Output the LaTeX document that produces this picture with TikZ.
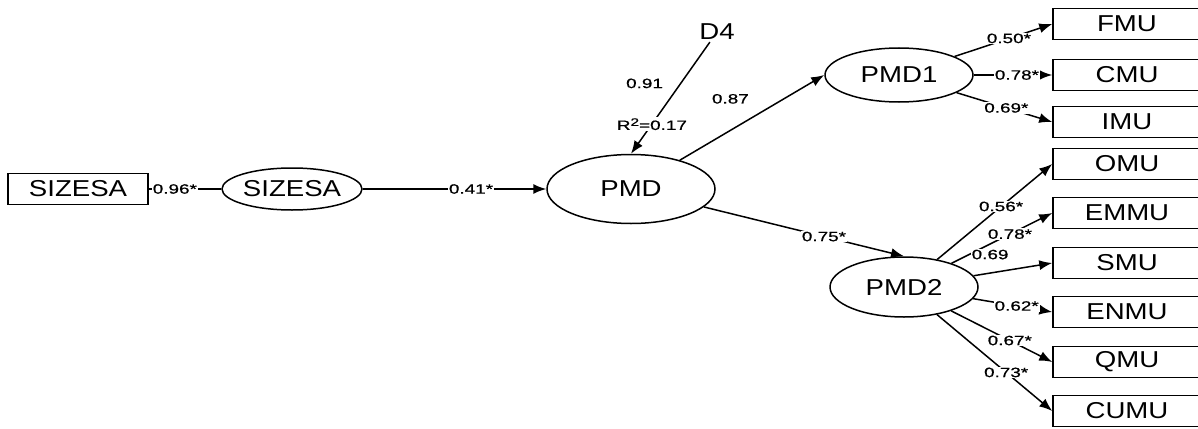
\documentclass[tikz,border=0pt]{standalone}
\usepackage{fontspec}
\setmainfont{Liberation Sans}
\newfontfamily\nodefont[FakeStretch=1.2]{Liberation Sans}
\newfontfamily\lblfont[FakeStretch=1.4,FakeBold=0.8]{Liberation Sans}
\usetikzlibrary{shapes.geometric,arrows.meta}
\begin{document}
\begin{tikzpicture}[x=1pt,y=-1pt,
  lv/.style={ellipse,draw,line width=1.5pt,inner sep=0pt,font=\nodefont\fontsize{23}{23}\selectfont},
  ob/.style={rectangle,draw,line width=1.5pt,inner sep=0pt,minimum height=31pt,font=\nodefont\fontsize{23}{23}\selectfont},
  rb/.style={ob,minimum width=148pt},
  lbl/.style={fill=white,inner sep=1pt,font=\lblfont\fontsize{13.5}{13.5}\selectfont},
  conn/.style={line width=1.5pt,-{Latex[length=13pt,width=10pt]}},
  plain/.style={line width=1.5pt}]
\useasboundingbox (0,0) rectangle (1198,428);
% nodes
\node[ob,minimum width=140pt] (x0) at (78,189) {SIZESA};
\node[lv,minimum width=140pt,minimum height=42pt] (sizesa) at (292,189) {SIZESA};
\node[lv,minimum width=168pt,minimum height=69pt] (pmd) at (631,189) {PMD};
\node[font=\nodefont\fontsize{23}{23}\selectfont,inner sep=2pt] (d4) at (717,32) {D4};
\node[lv,minimum width=148pt,minimum height=54pt] (pmd1) at (899,75) {PMD1};
\node[lv,minimum width=148pt,minimum height=60pt] (pmd2) at (904,287) {PMD2};
\node[rb] (fmu) at (1127,24) {FMU};
\node[rb] (cmu) at (1127,75) {CMU};
\node[rb] (imu) at (1127,122) {IMU};
\node[rb] (omu) at (1127,164) {OMU};
\node[rb] (emmu) at (1127,213) {EMMU};
\node[rb] (smu) at (1127,263) {SMU};
\node[rb] (enmu) at (1127,312) {ENMU};
\node[rb] (qmu) at (1127,362) {QMU};
\node[rb] (cumu) at (1127,411) {CUMU};
% connectors
\draw[plain] (x0) -- node[lbl,pos=0.36] {0.96*} (sizesa);
\draw[conn] (sizesa) -- node[lbl,pos=0.59] {0.41*} (pmd);
\draw[conn] (d4) -- node[lbl,pos=0.735] {R\raisebox{4pt}{\fontsize{11}{11}\selectfont 2}=0.17}
  node[lbl,pos=0.37,left=16pt] {0.91} (pmd.north);
\draw[conn] (pmd) -- node[lbl,pos=0.35,above=25pt] {0.87} (pmd1.west);
\draw[conn] (pmd) -- node[lbl,pos=0.6] {0.75*} (pmd2.north);
\draw[conn] (pmd1) -- node[lbl,pos=0.556] {0.50*} (fmu.west);
\draw[conn] (pmd1) -- node[lbl,pos=0.55] {0.78*} (cmu.west);
\draw[conn] (pmd1) -- node[lbl,pos=0.52] {0.69*} (imu.west);
\draw[conn] (pmd2) -- node[lbl,pos=0.555] {0.56*} (omu.west);
\draw[conn] (pmd2) -- node[lbl,pos=0.58] {0.78*} (emmu.west);
\draw[conn] (pmd2) -- node[lbl,pos=0.21,above=12pt] {0.69} (smu.west);
\draw[conn] (pmd2) -- node[lbl,pos=0.55] {0.62*} (enmu.west);
\draw[conn] (pmd2) -- node[lbl,pos=0.58] {0.67*} (qmu.west);
\draw[conn] (pmd2) -- node[lbl,pos=0.6] {0.73*} (cumu.west);
\end{tikzpicture}
\end{document}
